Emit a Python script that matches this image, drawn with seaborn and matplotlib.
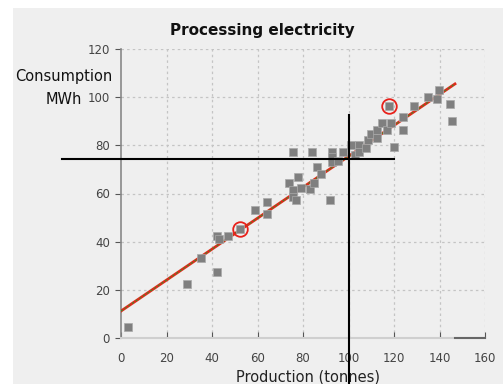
import matplotlib
matplotlib.use("Agg")
import matplotlib.pyplot as plt
import seaborn as sns
import pandas as pd
from matplotlib.patches import Rectangle

# ---- data ----
production = [3, 29, 35, 42, 42, 43, 47, 52.3, 58.8, 64, 64.3, 74, 75.7, 75.8, 75.8,
              77, 78, 79, 83, 84.1, 84.8, 86, 88, 91.9, 92.6, 92.6, 92.6, 95.5, 97.8,
              101.2, 102.9, 104.8, 104.8, 107.5, 108.7, 110, 112.7, 112.7, 114.8,
              116.8, 118.5, 118, 119.8, 123.8, 123.8, 128.8, 134.8, 138.8, 139.8,
              144.6, 145.7]
consumption = [4.5, 22.4, 33.3, 27.3, 42.4, 41.1, 42.4, 45.1, 53.3, 51.3, 56.3, 64.2,
               77.1, 61.3, 58.5, 57.3, 67, 62.2, 62, 77.1, 64.3, 71.1, 68.2, 57.2,
               77.1, 75.2, 73.1, 73.5, 77.1, 80.3, 76, 80.3, 77.4, 78.7, 82.2, 84.5,
               83.2, 86.4, 89.3, 86.2, 89.3, 96.3, 79.2, 91.9, 86.2, 96.3, 100.2,
               99.1, 103, 97, 90.2]
trend_x = [0, 146.8]
trend_y = [11.2, 105.5]
circled_x = [52.3, 118]
circled_y = [45.1, 96.3]
cross_h_y = [74.5, 74.5]
cross_h_x = [-26, 120]
cross_v_x = [100, 100]
cross_v_y = [92.6, -20]
x_ticks = [0, 20, 40, 60, 80, 100, 120, 140, 160]
y_ticks = [0, 20, 40, 60, 80, 100, 120]

df = pd.DataFrame({"Production": production, "Consumption": consumption})
trend = pd.DataFrame({"x": trend_x, "y": trend_y})

plt.rcParams["font.family"] = ["DejaVu Sans"]

bg = "#efefef"
fig = plt.figure(figsize=(5.03, 3.84), dpi=100, facecolor=bg)
# white margins on the left and top
fig.patches.append(Rectangle((0, 0), 13 / 503, 1, transform=fig.transFigure,
                             facecolor="white", edgecolor="none", zorder=-10))
fig.patches.append(Rectangle((0, 1 - 8 / 384), 1, 8 / 384, transform=fig.transFigure,
                             facecolor="white", edgecolor="none", zorder=-10))
ax = fig.add_axes([121 / 503, 1 - 338 / 384, 364 / 503, 289 / 384])
ax.set_facecolor(bg)

# grid
for xv in x_ticks[1:]:
    ax.axvline(xv, color="#c4c4c4", lw=0.9, ls=(0, (2, 2.5)), zorder=1)
for yv in y_ticks[1:]:
    ax.axhline(yv, color="#c4c4c4", lw=0.9, ls=(0, (2, 2.5)), zorder=1)

# trend line
sns.lineplot(data=trend, x="x", y="y", ax=ax, color="#e02a1a", lw=2.0, zorder=3)
sns.lineplot(data=trend, x="x", y="y", ax=ax, color="#3c8c2c", lw=0.8, zorder=4)
ax.lines[-1].set_linestyle((0, (2, 2)))

# points
sns.scatterplot(data=df, x="Production", y="Consumption", ax=ax, marker="s",
                s=40, color="#7f7f7f", edgecolor="#aaaaaa", linewidth=0.5,
                zorder=5)

# circles
ax.plot(circled_x, circled_y, "o", ms=10.5, mfc="none", mec="#e8201a",
        mew=1.3, zorder=6)

# crosshair
ax.plot(cross_h_x, cross_h_y, color="black", lw=1.5, clip_on=False, zorder=7)
ax.plot(cross_v_x, cross_v_y, color="black", lw=1.5, clip_on=False, zorder=7)

ax.set_xlim(0, 160)
ax.set_ylim(0, 120)
ax.set_xticks(x_ticks)
ax.set_yticks(y_ticks)
ax.tick_params(axis="x", direction="in", length=4, color="#555555",
               labelsize=8.5, labelcolor="#444444", pad=10)
ax.tick_params(axis="y", direction="out", length=4, color="#555555",
               labelsize=8.5, labelcolor="#444444", pad=4)
for s in ["top", "right"]:
    ax.spines[s].set_visible(False)
ax.spines["left"].set_color("#888888")
ax.spines["left"].set_linewidth(1.2)
ax.spines["bottom"].set_color("#cfcfcf")
ax.spines["bottom"].set_linewidth(1.5)
ax.plot([147, 160], [0, 0], color="#666666", lw=1.5, clip_on=False, zorder=8)

ax.set_xlabel("Production (tonnes)", fontsize=10.5, color="#222222", labelpad=3,
              x=(308.5 - 121) / 364)
ax.set_ylabel("")
fig.text(262 / 503, 1 - 31 / 384, "Processing electricity", ha="center",
         va="center", fontsize=11, fontweight="bold", color="#111111")
fig.text(64 / 503, 1 - 77 / 384, "Consumption", ha="center", va="center",
         fontsize=10.5, color="#111111")
fig.text(64 / 503, 1 - 100 / 384, "MWh", ha="center", va="center",
         fontsize=10.5, color="#111111")

fig.savefig("out.png", dpi=100, facecolor=bg)
